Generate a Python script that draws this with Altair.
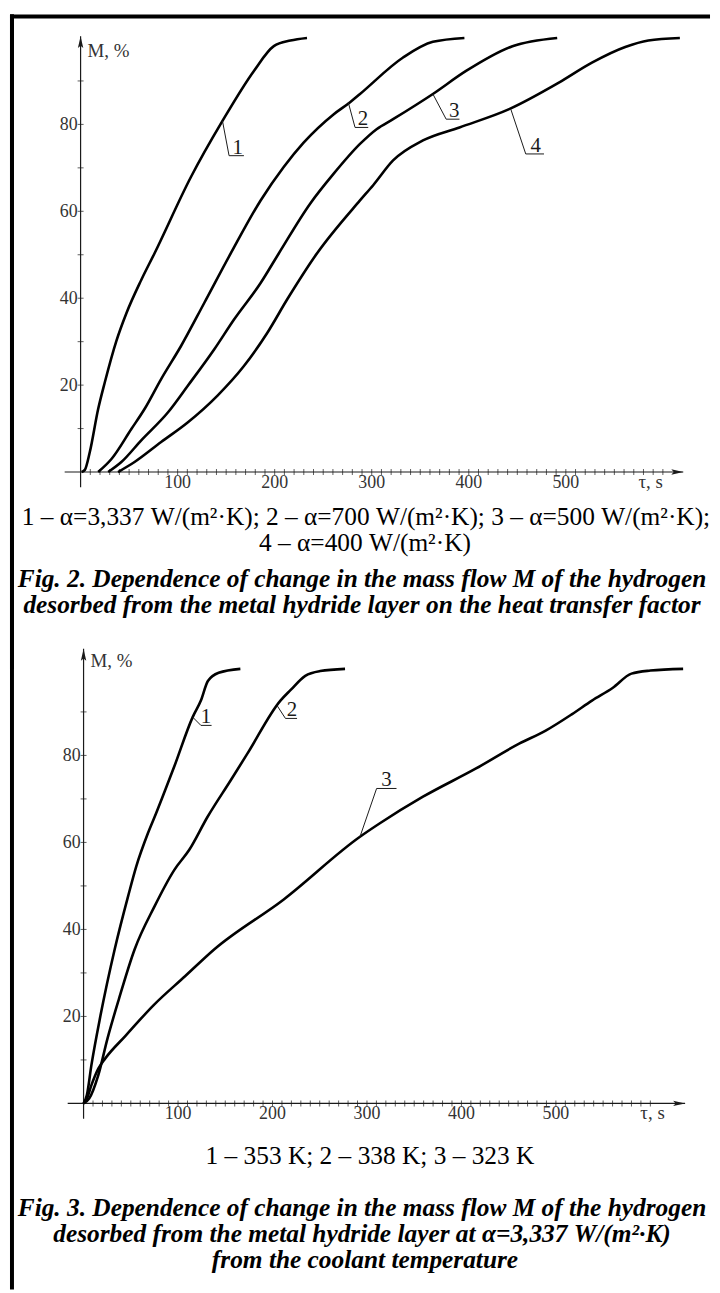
import altair as alt
import pandas as pd

# ---------------- Fig. 2 data (tau, s ; M, %) ----------------
f2_c1_t = [1, 4.4, 9.5, 18.1, 24.9, 36.9, 47.1, 62.5, 76.1, 113.7, 146.2, 178.6, 199.1, 216.2, 233.3]
f2_c1_m = [0, 0.5, 4.6, 14.5, 20.6, 30.2, 36.5, 44.2, 50.3, 67.9, 80.8, 92.3, 98.0, 99.3, 99.9]
f2_c2_t = [18.1, 31.8, 52.3, 65.9, 83.0, 103.5, 127.4, 154.7, 185.5, 209.3, 229.8, 260.6, 277.7, 287.9, 332.3, 363.0, 395.5]
f2_c2_m = [0, 3.0, 9.9, 14.5, 21.4, 29.0, 38.9, 50.3, 62.5, 70.2, 75.8, 82.3, 85.1, 87.0, 95.4, 99.0, 99.9]
f2_c3_t = [28.4, 42.0, 62.5, 89.9, 110.3, 137.6, 158.1, 185.5, 204.2, 236.7, 260.6, 287.9, 305.0, 322.0, 363.0, 397.2, 445.0, 491.1]
f2_c3_m = [0, 2.3, 7.3, 13.7, 19.8, 28.2, 35.1, 43.5, 50.3, 61.8, 68.6, 75.5, 78.9, 81.2, 87.0, 92.3, 98.0, 99.9]
f2_c4_t = [38.6, 55.6, 83.0, 110.3, 141.1, 168.3, 192.3, 212.8, 243.5, 287.9, 301.5, 322.0, 352.8, 390.4, 441.6, 492.8, 526.9, 561.2, 585.0, 617.5]
f2_c4_m = [0, 2.3, 6.9, 11.4, 17.6, 24.4, 32.0, 39.7, 50.3, 62.5, 66.0, 71.7, 76.3, 79.3, 83.5, 89.6, 94.2, 97.8, 99.3, 99.9]

f2_names = ["1", "2", "3", "4"]
f2_lead_t = [[146.2, 153.0, 168.3], [275.9, 282.8, 296.4], [363.0, 376.7, 390.4], [443.3, 458.7, 477.5]]
f2_lead_m = [[80.8, 72.8, 72.8], [85.0, 79.3, 79.3], [87.0, 81.2, 81.2], [83.5, 73.2, 73.2]]
f2_lab_t = [162.0, 291.0, 385.0, 469.0]
f2_lab_m = [72.8, 79.3, 81.2, 73.2]

# ---------------- Fig. 3 data ----------------
f3_c1_t = [0, 3.5, 8.3, 17.9, 32.9, 47.1, 55.8, 68.1, 76.8, 85.6, 96.1, 115.5, 124.2, 131.6, 143.0, 166.0]
f3_c1_m = [0, 1.9, 8.8, 20.2, 35.4, 47.6, 54.5, 62.1, 66.7, 71.6, 77.5, 88.8, 92.6, 97.1, 99.0, 99.9]
f3_c2_t = [0, 5.9, 15.6, 25.3, 37.4, 54.0, 75.1, 96.1, 111.9, 131.3, 155.8, 173.4, 208.4, 219.0, 234.7, 250.5, 276.8]
f3_c2_m = [0, 1.1, 6.5, 14.9, 24.0, 35.4, 45.3, 53.7, 58.3, 65.9, 74.3, 80.4, 92.6, 95.0, 98.3, 99.4, 99.9]
f3_c3_t = [0, 3.5, 8.3, 15.6, 22.8, 44.6, 73.7, 107.7, 138.2, 211.9, 292.6, 313.7, 359.3, 415.5, 461.1, 489.2, 517.2, 538.2, 560.0, 580.0, 600.0, 634.7]
f3_c3_m = [0, 1.1, 4.2, 8.0, 10.3, 15.6, 22.5, 29.3, 35.4, 46.9, 61.3, 64.4, 70.5, 77.0, 82.7, 85.7, 89.5, 92.6, 95.5, 98.8, 99.5, 99.9]

f3_names = ["1", "2", "3"]
f3_lead_t = [[115.5, 124.2, 135.5], [205.0, 213.7, 226.0], [292.6, 310.2, 331.3]]
f3_lead_m = [[88.8, 86.9, 86.9], [91.4, 88.5, 88.5], [61.3, 72.4, 72.4]]
f3_lab_t = [129.5, 220.7, 320.7]
f3_lab_m = [86.9, 88.5, 72.4]

# axis ticks and labels
x_minor = list(range(10, 610, 10))
y_minor = list(range(10, 100, 10))
x_labels = [100, 200, 300, 400, 500]
y_labels = [20, 40, 60, 80]

fig2_legend = ["1 – α=3,337 W/(m²·K); 2 – α=700 W/(m²·K); 3 – α=500 W/(m²·K);",
               "4 – α=400 W/(m²·K)"]
fig2_caption = ["Fig. 2. Dependence of change in the mass flow M of the hydrogen",
                "desorbed from the metal hydride layer on the heat transfer factor"]
fig3_legend = ["1 – 353 K; 2 – 338 K; 3 – 323 K"]
fig3_caption = ["Fig. 3. Dependence of change in the mass flow M of the hydrogen",
                "desorbed from the metal hydride layer at α=3,337 W/(m²·K)",
                "from the coolant temperature"]

W = 704
H2, H3 = 620, 665
SERIF = "Liberation Serif"
INK = "#1a1a1a"


def panel(H, ox, oy, kx, ky, curves_t, curves_m, names, lead_t, lead_m, lab_t, lab_m,
          xaxis_rng, yaxis_rng, mtitle_gap, legend, legend_pos, caption, caption_pos, first):
    xs = alt.Scale(domain=[-ox / kx, (W - ox) / kx], nice=False, zero=False)
    ys = alt.Scale(domain=[(oy - H) / ky, oy / ky], nice=False, zero=False)

    def X(f):
        return alt.X(f, type="quantitative", scale=xs, axis=None)

    def Y(f):
        return alt.Y(f, type="quantitative", scale=ys, axis=None)

    layers = []
    one = pd.DataFrame({"k": [0]})

    # frame: left side over the whole page height, top side on the first panel
    if first:
        layers.append(alt.Chart(one).mark_rule(color="black", strokeWidth=4).encode(
            x=alt.value(2), y=alt.value(2), y2=alt.value(H + 40)))
        layers.append(alt.Chart(one).mark_rule(color="black", strokeWidth=4, strokeCap="square").encode(
            x=alt.value(2), x2=alt.value(W - 2), y=alt.value(4)))
    else:
        layers.append(alt.Chart(one).mark_rule(color="black", strokeWidth=4).encode(
            x=alt.value(2), y=alt.value(-(H2 - 2)), y2=alt.value(H - 1)))

    # axes lines
    xa = pd.DataFrame({"t0": [xaxis_rng[0]], "t1": [xaxis_rng[1]], "m": [0]})
    layers.append(alt.Chart(xa).mark_rule(color=INK, strokeWidth=1.2).encode(
        x=X("t0"), x2=alt.X2("t1"), y=Y("m")))
    ya = pd.DataFrame({"t": [0], "m0": [yaxis_rng[0]], "m1": [yaxis_rng[1]]})
    layers.append(alt.Chart(ya).mark_rule(color=INK, strokeWidth=1.2).encode(
        x=X("t"), y=Y("m0"), y2=alt.Y2("m1")))

    # arrow heads
    ax = pd.DataFrame({"t": [xaxis_rng[1] - 6 / kx], "m": [0]})
    layers.append(alt.Chart(ax).mark_point(
        shape="M1,0L-1,-0.45L-0.6,0L-1,0.45Z", filled=True, size=144, color=INK,
        opacity=1, strokeWidth=0).encode(x=X("t"), y=Y("m")))
    ay = pd.DataFrame({"t": [0], "m": [yaxis_rng[1] - 6 / ky]})
    layers.append(alt.Chart(ay).mark_point(
        shape="M0,-1L-0.45,1L0,0.6L0.45,1Z", filled=True, size=144, color=INK,
        opacity=1, strokeWidth=0).encode(x=X("t"), y=Y("m")))

    # ticks
    xt = pd.DataFrame({"t": x_minor, "m": [0] * len(x_minor)})
    layers.append(alt.Chart(xt).mark_tick(orient="vertical", size=6, thickness=1, color=INK).encode(
        x=X("t"), y=Y("m")))
    yt = pd.DataFrame({"t": [0] * len(y_minor), "m": y_minor})
    layers.append(alt.Chart(yt).mark_tick(orient="horizontal", size=6, thickness=1, color=INK).encode(
        x=X("t"), y=Y("m")))

    # tick labels
    xl = pd.DataFrame({"t": x_labels, "m": [0] * len(x_labels), "s": [str(v) for v in x_labels]})
    layers.append(alt.Chart(xl).mark_text(font=SERIF, fontSize=18, color="#333", align="center",
                                          baseline="middle", dy=11).encode(
        x=X("t"), y=Y("m"), text="s:N"))
    yl = pd.DataFrame({"t": [0] * len(y_labels), "m": y_labels, "s": [str(v) for v in y_labels]})
    layers.append(alt.Chart(yl).mark_text(font=SERIF, fontSize=18, color="#333", align="right",
                                          baseline="middle", dx=-3, dy=1).encode(
        x=X("t"), y=Y("m"), text="s:N"))

    # axis titles
    layers.append(alt.Chart(one).mark_text(font=SERIF, fontSize=19, color="#333", align="left",
                                           baseline="middle").encode(
        x=X("t"), y=Y("m"), text=alt.value("M, %")).transform_calculate(
        t=str(7 / kx), m=str(yaxis_rng[1] - mtitle_gap / ky)))
    layers.append(alt.Chart(one).mark_text(font=SERIF, fontSize=19, color="#333", align="left",
                                           baseline="middle").encode(
        x=X("t"), y=Y("m"), text=alt.value("τ, s")).transform_calculate(
        t=str(xaxis_rng[1] - 45 / kx), m=str(-10 / ky)))

    # curves
    cdf = pd.concat([pd.DataFrame({"t": t, "m": m, "c": n})
                     for t, m, n in zip(curves_t, curves_m, names)])
    layers.append(alt.Chart(cdf).mark_line(color="black", strokeWidth=2.6,
                                           interpolate="monotone").encode(
        x=X("t"), y=Y("m"), detail="c:N"))

    # leaders
    ldf = pd.concat([pd.DataFrame({"t": t, "m": m, "c": n, "o": list(range(len(t)))})
                     for t, m, n in zip(lead_t, lead_m, names)])
    layers.append(alt.Chart(ldf).mark_line(color=INK, strokeWidth=1).encode(
        x=X("t"), y=Y("m"), detail="c:N", order="o:Q"))
    tdf = pd.DataFrame({"t": lab_t, "m": lab_m, "s": names})
    layers.append(alt.Chart(tdf).mark_text(font=SERIF, fontSize=21, color=INK, align="center",
                                           baseline="alphabetic", dy=-2).encode(
        x=X("t"), y=Y("m"), text="s:N"))

    # legend and caption
    for line, (px, py) in zip(legend, legend_pos):
        layers.append(alt.Chart(one).mark_text(font=SERIF, fontSize=25.5, color="black",
                                               align="center", baseline="middle").encode(
            x=alt.value(px), y=alt.value(py), text=alt.value(line)))
    for line, (px, py) in zip(caption, caption_pos):
        layers.append(alt.Chart(one).mark_text(font=SERIF, fontSize=25.5, fontStyle="italic",
                                               fontWeight="bold", color="black",
                                               align="center", baseline="middle").encode(
            x=alt.value(px), y=alt.value(py), text=alt.value(line)))

    return alt.layer(*layers).properties(width=W, height=H)


p2 = panel(H2, 71, 462, 0.976, 4.37,
           [f2_c1_t, f2_c2_t, f2_c3_t, f2_c4_t], [f2_c1_m, f2_c2_m, f2_c3_m, f2_c4_m], f2_names,
           f2_lead_t, f2_lead_m, f2_lab_t, f2_lab_m,
           (-16.4, 621.0), (-3.5, 100.3), 15,
           fig2_legend, [(358, 507), (357, 533)],
           fig2_caption, [(354, 570), (354, 596)], True)
p3 = panel(H3, 74, 477, 0.95, 4.375,
           [f3_c1_t, f3_c2_t, f3_c3_t], [f3_c1_m, f3_c2_m, f3_c3_m], f3_names,
           f3_lead_t, f3_lead_m, f3_lab_t, f3_lab_m,
           (-16.8, 636.8), (-3.5, 104.5), 12,
           fig3_legend, [(362, 530)],
           fig3_caption, [(354, 582), (354, 608), (357, 634)], False)

chart = alt.vconcat(p2, p3, spacing=0, bounds="flush").properties(padding=0).configure_view(
    stroke="transparent")
chart.save("out.html", embed_options={"renderer": "svg", "actions": False})
